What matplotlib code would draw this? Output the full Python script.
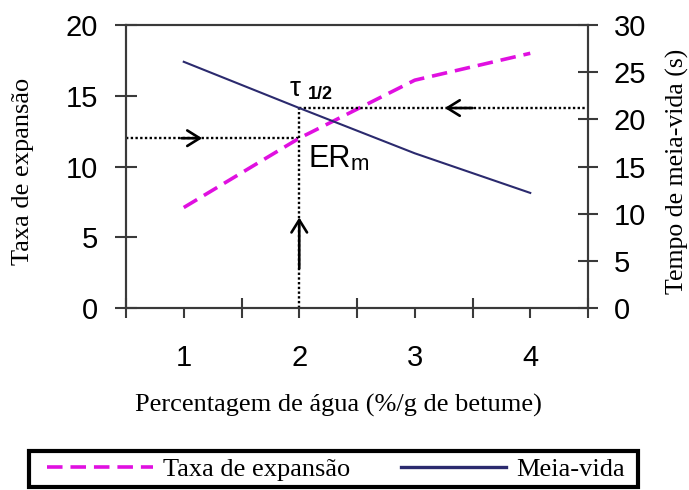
import matplotlib
matplotlib.use('Agg')
import matplotlib.pyplot as plt
from matplotlib.lines import Line2D
from matplotlib.patches import Rectangle

# ---- data ----
water = [1, 2, 3, 4]
taxa_expansao = [7.1, 12.0, 16.1, 18.0]      # left axis
meia_vida = [26.1, 21.2, 16.4, 12.2]         # right axis (s)
left_ticks = [0, 5, 10, 15, 20]
right_ticks = [0, 5, 10, 15, 20, 25, 30]
x_tick_labels = ['1', '2', '3', '4']
x_opt = 2
er_m = 12.0
tau_half = 21.2

SANS = 'Liberation Sans'
SERIF = 'Liberation Serif'
MAG = '#E010E0'
NAVY = '#2B2A6E'
SPINE = '#3a3a3a'

W, H = 689, 490
fig = plt.figure(figsize=(6.89, 4.9), dpi=100)
ax = fig.add_axes([126/W, 1-308/H, 462/W, 283/H])
ax2 = ax.twinx()

ax.set_xlim(0.5, 4.5)
ax.set_ylim(0, 20)
ax2.set_ylim(0, 30)

for a in (ax, ax2):
    for s in a.spines.values():
        s.set_color(SPINE)
        s.set_linewidth(1.5)

# x ticks
ax.set_xticks([0.5, 1.5, 2.5, 3.5, 4.5])
ax.set_xticklabels([])
ax.set_xticks(water, minor=True)
ax.set_xticklabels(x_tick_labels, minor=True)
ax.tick_params(axis='x', which='major', direction='inout', length=14.5, width=1.5, color=SPINE)
ax.tick_params(axis='x', which='minor', direction='out', length=7, width=1.5, color=SPINE,
               labelsize=21, pad=19)
for t in ax.get_xticklabels(minor=True):
    t.set_fontfamily(SANS)

# left y
ax.set_yticks(left_ticks)
ax.tick_params(axis='y', which='major', direction='inout', length=16, width=1.5, color=SPINE,
               labelsize=21, pad=12)
for t in ax.get_yticklabels():
    t.set_fontfamily(SANS)

# right y
ax2.set_yticks(right_ticks)
ax2.tick_params(axis='y', which='major', direction='inout', length=15, width=1.5, color=SPINE,
                labelsize=21, pad=11)
for t in ax2.get_yticklabels():
    t.set_fontfamily(SANS)

# data lines
ax.plot(water, taxa_expansao, color=MAG, lw=2.6, ls=(0, (4.3, 2.2)), zorder=3)
ax2.plot(water, meia_vida, color=NAVY, lw=1.5, zorder=3)

# guide lines
dot = dict(color='black', lw=1.7, ls=(0, (1, 1)), zorder=2)
tau_left = tau_half * 20 / 30
ax.plot([0.5, x_opt], [er_m, er_m], **dot)
ax.plot([x_opt, x_opt], [0, tau_left], **dot)
ax2.plot([x_opt, 4.5], [tau_half, tau_half], **dot)

ap = dict(arrowstyle='->,head_length=0.45,head_width=0.28', lw=1.9, color='black',
          shrinkA=0, shrinkB=0, mutation_scale=20)
ax.annotate('', xy=(1.16, er_m), xytext=(0.98, er_m), arrowprops=ap)
ax.annotate('', xy=(x_opt, 6.4), xytext=(x_opt, 2.8), arrowprops=ap)
ax2.annotate('', xy=(3.26, tau_half), xytext=(3.5, tau_half), arrowprops=ap)

# annotations
ax.text(1.915, 15.0, 'τ', fontsize=20, family=SANS, va='baseline')
ax.text(2.075, 14.8, '1/2', fontsize=13, family=SANS, weight='bold', va='baseline')
ax.text(2.08, 9.96, 'ER', fontsize=22, family=SANS, va='baseline')
ax.text(2.445, 9.75, 'm', fontsize=16, family=SANS, va='baseline')

# axis labels
fig.text(23/W, 1-171/H, 'Taxa de expansão', rotation=90, ha='center', va='center',
         fontsize=19, family=SERIF)
fig.text(677/W, 1-171/H, 'Tempo de meia-vida (s)', rotation=90, ha='center', va='center',
         fontsize=18.5, family=SERIF)
fig.text(338/W, 1-405/H, 'Percentagem de água (%/g de betume)', ha='center', va='center',
         fontsize=19, family=SERIF)

# legend
handles = [Line2D([], [], color=MAG, lw=2.6, ls=(0, (4.3, 2.2))),
           Line2D([], [], color=NAVY, lw=2.4)]
leg = fig.legend(handles, ['Taxa de expansão', 'Meia-vida'], loc='center left',
                 bbox_to_anchor=(47/W, 1-469/H), borderaxespad=0, ncol=2, frameon=False,
                 handlelength=4.0, handletextpad=0.4, columnspacing=1.9,
                 borderpad=0, prop={'family': SERIF, 'size': 19})
fig.add_artist(Rectangle((29/W, 1-487/H), (638-29)/W, (487-451)/H, transform=fig.transFigure,
                         fill=False, edgecolor='black', lw=3, zorder=5))

fig.savefig('out.png', dpi=100)
